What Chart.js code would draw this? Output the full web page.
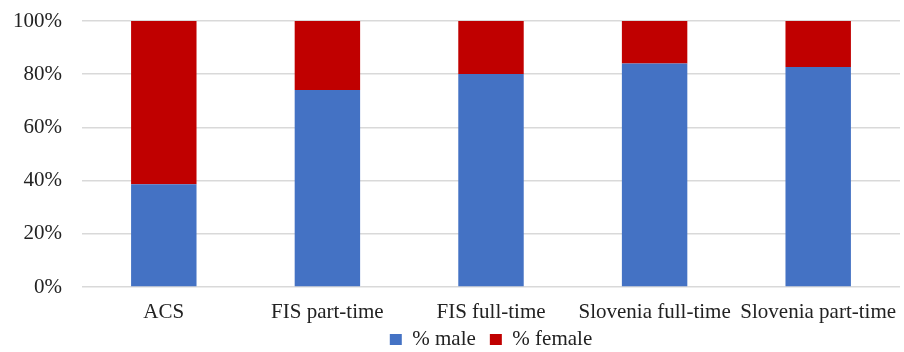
<!DOCTYPE html>
<html>
<head>
<meta charset="utf-8">
<script src="https://cdn.jsdelivr.net/npm/chart.js@4/dist/chart.umd.min.js"></script>
<style>
  html, body { margin: 0; padding: 0; background: #fff; }
  #wrap { width: 904px; height: 352px; }
</style>
</head>
<body>
<div id="wrap"><canvas id="chart"></canvas></div>
<script>
// categories and shares
const categories = ['ACS', 'FIS part-time', 'FIS full-time', 'Slovenia full-time', 'Slovenia part-time'];
const malePct = [38.6, 74.1, 80.1, 84.0, 82.7];
const femalePct = [61.4, 25.9, 19.9, 16.0, 17.3];
const yTicks = [0, 20, 40, 60, 80, 100];

const serif = "'Liberation Serif', 'Times New Roman', serif";
Chart.defaults.font.family = serif;
Chart.defaults.color = '#222';

// pull the legend up closer to the axis labels
const legendLift = {
    id: 'legendLift',
    afterLayout(chart) {
        chart.legend.top -= 14;
        chart.legend.bottom -= 14;
    }
};

let ctx = document.getElementById('chart').getContext('2d');

let genderChart = new Chart(ctx, {
    type: 'bar',
    data: {
        labels: categories,
        datasets: [{
            label: '% male',
            data: malePct,
            backgroundColor: '#4472C4',
            borderWidth: 0
        }, {
            label: '% female',
            data: femalePct,
            backgroundColor: '#C00000',
            borderWidth: 0
        }]
    },
    options: {
        responsive: true,
        maintainAspectRatio: false,
        animation: false,
        layout: {
            padding: { left: 0, right: 4, top: 21, bottom: -22 }
        },
        datasets: {
            bar: { categoryPercentage: 1, barPercentage: 0.4 }
        },
        scales: {
            x: {
                stacked: true,
                grid: { display: false, drawTicks: false },
                border: { display: false },
                ticks: {
                    padding: 13,
                    maxRotation: 0,
                    autoSkip: false,
                    font: { size: 21 }
                },
                afterFit: function(scale) {
                    scale.height = 42;
                    scale.paddingLeft = 0;
                    scale.paddingRight = 0;
                }
            },
            y: {
                stacked: true,
                min: 0,
                max: 100,
                afterBuildTicks: function(scale) {
                    scale.ticks = yTicks.map(v => ({ value: v }));
                },
                grid: { color: '#d9d9d9', lineWidth: 1.5, drawTicks: false },
                border: { display: false },
                ticks: {
                    padding: 20,
                    font: { size: 21 },
                    callback: v => v + '%'
                },
                afterFit: function(scale) {
                    scale.width = 82;
                    scale.paddingTop = 0;
                    scale.paddingBottom = 0;
                }
            }
        },
        plugins: {
            title: { display: false },
            tooltip: { enabled: false },
            legend: {
                position: 'bottom',
                fullSize: false,
                labels: {
                    boxWidth: 12,
                    boxHeight: 11,
                    padding: 14,
                    font: { size: 21 }
                }
            }
        }
    },
    plugins: [legendLift]
});
</script>
</body>
</html>
